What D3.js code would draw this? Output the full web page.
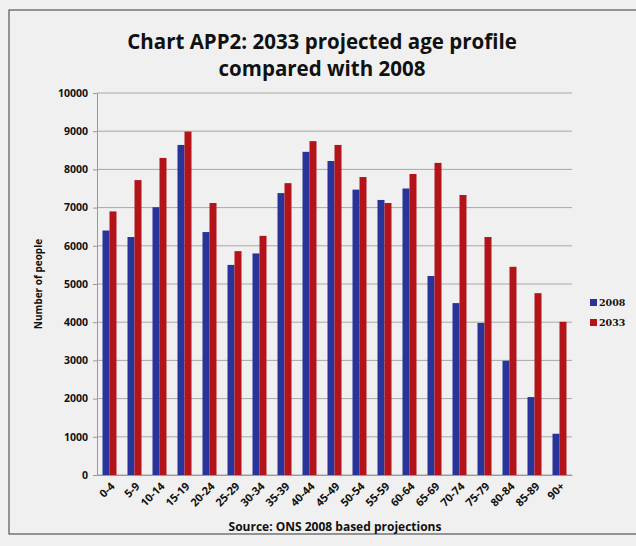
<!DOCTYPE html>
<html><head><meta charset="utf-8">
<script src="https://cdn.jsdelivr.net/npm/d3@7"></script>
<style>body{margin:0;background:#fff}svg{display:block}</style>
</head><body>
<svg id="c" width="636" height="546"></svg>
<script>
const categories = ["0-4","5-9","10-14","15-19","20-24","25-29","30-34","35-39","40-44","45-49","50-54","55-59","60-64","65-69","70-74","75-79","80-84","85-89","90+"];
const values2008 = [6400,6230,7010,8640,6360,5500,5800,7380,8460,8220,7470,7200,7500,5210,4500,3980,2990,2040,1080];
const values2033 = [6900,7720,8300,8990,7120,5860,6260,7640,8740,8640,7800,7120,7880,8170,7330,6230,5450,4760,4010];
const seriesNames = ["2008","2033"];
const yTicks = [0,1000,2000,3000,4000,5000,6000,7000,8000,9000,10000];
const colors = ["#29349a","#b31319"];

const svg = d3.select("#c");
svg.append("rect").attr("x",0).attr("y",0).attr("width",636).attr("height",546).attr("fill","#f1f1f1");
svg.append("rect").attr("x",9).attr("y",10).attr("width",640).attr("height",524).attr("fill","#f0f0f0").attr("stroke","#555").attr("stroke-width",1.2);

const m = {l:97, r:572, t:93, b:475};
const x = d3.scaleBand().domain(categories).range([m.l,m.r]).paddingInner(0.44).paddingOuter(0.22);
const x1 = d3.scaleBand().domain(seriesNames).range([0,x.bandwidth()]);
const y = d3.scaleLinear().domain([0,10000]).range([m.b,m.t]);

// gridlines
svg.append("g").selectAll("line").data(yTicks).join("line")
  .attr("x1",m.l).attr("x2",m.r).attr("y1",d=>y(d)).attr("y2",d=>y(d))
  .attr("stroke","#a8a8a8").attr("stroke-width",1);

// bars
const data = categories.map((c,i)=>({c, v:[values2008[i],values2033[i]]}));
const g = svg.append("g").selectAll("g").data(data).join("g").attr("transform",d=>`translate(${x(d.c)},0)`);
g.selectAll("rect").data(d=>d.v.map((v,j)=>({s:seriesNames[j],v,j}))).join("rect")
  .attr("x",d=>x1(d.s)).attr("width",x1.bandwidth())
  .attr("y",d=>y(d.v)).attr("height",d=>y(0)-y(d.v)).attr("fill",d=>colors[d.j]);

// y axis
const ya = svg.append("g").attr("transform",`translate(${m.l},0)`)
  .call(d3.axisLeft(y).tickValues(yTicks).tickSize(4).tickPadding(5).tickFormat(d3.format("d")));
ya.select(".domain").attr("stroke","#999");
ya.selectAll(".tick line").attr("stroke","#999");
ya.selectAll("text").attr("font-family","Open Sans, sans-serif").attr("font-weight","bold").attr("font-size","10.5px").attr("fill","#111");

// x axis
const xa = svg.append("g").attr("transform",`translate(0,${m.b})`)
  .call(d3.axisBottom(x).tickSize(0).tickPadding(6));
xa.select(".domain").attr("stroke","#999");
xa.selectAll("text").attr("font-family","Open Sans, sans-serif").attr("font-weight","bold").attr("font-size","11px").attr("fill","#111")
  .attr("text-anchor","end").attr("dy","0.35em").attr("transform","translate(-1,5) rotate(-45)");

// title
svg.append("text").attr("x",322).attr("y",49).attr("text-anchor","middle")
  .attr("font-family","Open Sans, sans-serif").attr("font-weight","bold").attr("font-size","20.5px").attr("fill","#111")
  .text("Chart APP2: 2033 projected age profile");
svg.append("text").attr("x",322).attr("y",76).attr("text-anchor","middle")
  .attr("font-family","Open Sans, sans-serif").attr("font-weight","bold").attr("font-size","20.5px").attr("fill","#111")
  .text("compared with 2008");

// y label
svg.append("text").attr("transform",`translate(42,${(m.t+m.b)/2}) rotate(-90)`).attr("text-anchor","middle")
  .attr("font-family","Open Sans, sans-serif").attr("font-weight","bold").attr("font-size","10px").attr("fill","#111")
  .text("Number of people");

// source
svg.append("text").attr("x",335).attr("y",531).attr("text-anchor","middle")
  .attr("font-family","Open Sans, sans-serif").attr("font-weight","bold").attr("font-size","12px").attr("fill","#111")
  .text("Source: ONS 2008 based projections");

// legend
const lg = svg.append("g").selectAll("g").data(seriesNames).join("g")
  .attr("transform",(d,i)=>`translate(590,${303+i*20})`);
lg.append("rect").attr("x",0).attr("y",-4).attr("width",7).attr("height",7).attr("fill",(d,i)=>colors[i]);
lg.append("text").attr("x",9).attr("y",0).attr("dy","0.35em")
  .attr("font-family","DejaVu Serif, serif").attr("font-weight","bold").attr("font-size","9.5px").attr("fill","#111")
  .text(d=>d);
</script>
</body></html>
